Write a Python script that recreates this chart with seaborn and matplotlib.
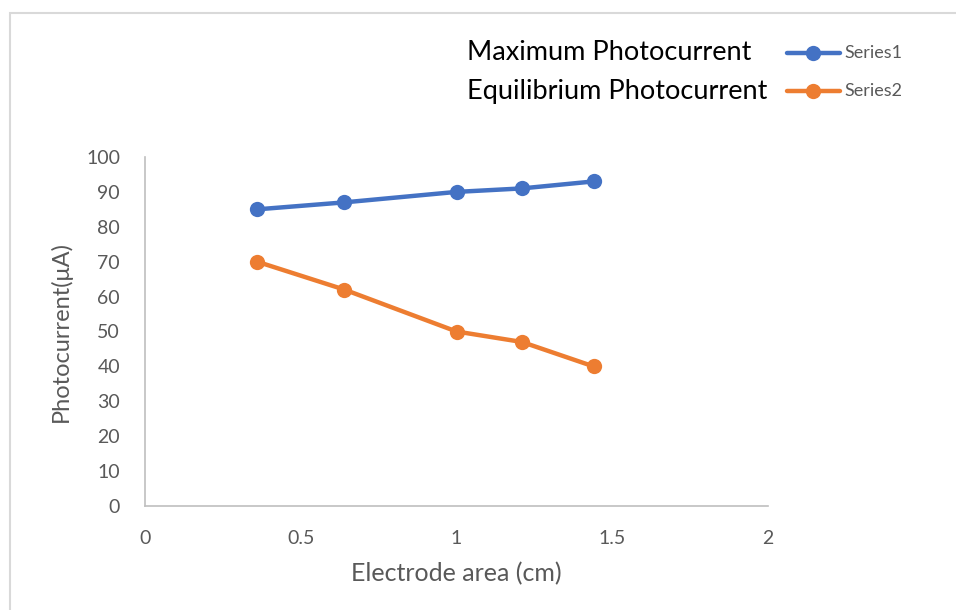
import matplotlib
matplotlib.use("Agg")
import matplotlib.pyplot as plt
from matplotlib.patches import Rectangle
import seaborn as sns
import pandas as pd

electrode_area = [0.36, 0.64, 1.0, 1.21, 1.44]
series1 = [85, 87, 90, 91, 93]
series2 = [70, 62, 50, 47, 40]
series_names = ["Series1", "Series2"]
legend_titles = ["Maximum Photocurrent", "Equilibrium Photocurrent"]
x_ticks = [0, 0.5, 1, 1.5, 2]
x_tick_labels = ["0", "0.5", "1", "1.5", "2"]
y_ticks = [0, 10, 20, 30, 40, 50, 60, 70, 80, 90, 100]

sns.set_style("white")
plt.rcParams["font.family"] = ["Lato", "DejaVu Sans"]

df = pd.DataFrame({
    "x": electrode_area * 2,
    "y": series1 + series2,
    "series": [series_names[0]] * len(series1) + [series_names[1]] * len(series2),
})

colors = {"Series1": "#4472C4", "Series2": "#ED7D31"}

fig = plt.figure(figsize=(9.56, 6.10), dpi=100)
ax = fig.add_axes([145 / 956, 1 - 506 / 610, (768 - 145) / 956, (506 - 157) / 610])

sns.lineplot(data=df, x="x", y="y", hue="series", palette=colors, marker="o",
             markersize=11, markeredgewidth=0, linewidth=3.2, ax=ax, legend=False)

ax.set_xlim(0, 2)
ax.set_ylim(0, 100)
ax.set_xticks(x_ticks)
ax.set_xticklabels(x_tick_labels)
ax.set_yticks(y_ticks)
ax.tick_params(axis="both", length=0, labelsize=14, labelcolor="#595959")
ax.tick_params(axis="x", pad=17)
ax.tick_params(axis="y", pad=18)
for s in ["top", "right"]:
    ax.spines[s].set_visible(False)
for s in ["left", "bottom"]:
    ax.spines[s].set_color("#BFBFBF")
    ax.spines[s].set_linewidth(1.2)

ax.set_xlabel("Electrode area (cm)", fontsize=18, color="#595959", labelpad=11)
ax.set_ylabel("Photocurrent(μA)", fontsize=17, color="#595959", labelpad=10)

# legend area
leg_y = [53 / 610, 91 / 610]
for i, name in enumerate(series_names):
    yf = 1 - leg_y[i]
    fig.text(467 / 956, yf, legend_titles[i], fontsize=19.5, color="black", va="center", ha="left")
    fig.add_artist(plt.Line2D([787 / 956, 840 / 956], [yf, yf], color=colors[name], linewidth=3.2,
                              transform=fig.transFigure))
    fig.add_artist(plt.Line2D([813 / 956], [yf], color=colors[name], marker="o", markersize=11,
                              markeredgewidth=0, transform=fig.transFigure))
    fig.text(844 / 956, yf, name, fontsize=13, color="#595959", va="center", ha="left")

# outer chart border (top and left visible)
fig.add_artist(Rectangle((10 / 956, -0.1), 1.2, 1 - 13 / 610 + 0.1, transform=fig.transFigure,
                         fill=False, edgecolor="#D9D9D9", linewidth=1.5, clip_on=False))

fig.savefig("out.png", dpi=100)
